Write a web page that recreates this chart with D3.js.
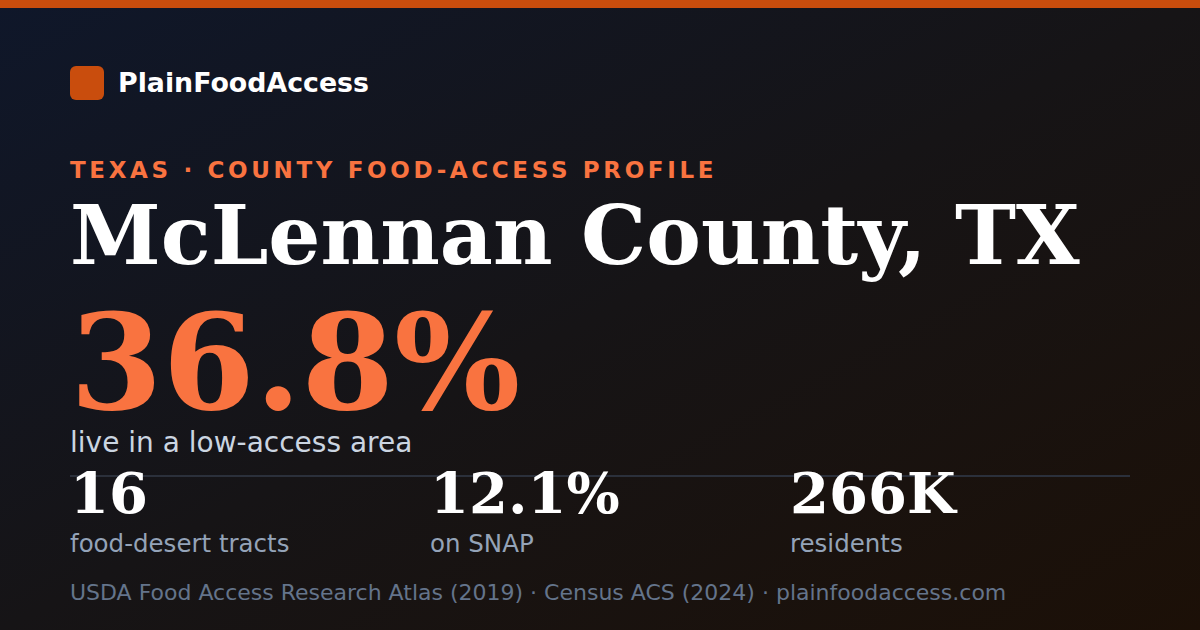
<!DOCTYPE html>
<html>
<head>
<meta charset="utf-8">
<script src="https://cdn.jsdelivr.net/npm/d3@7"></script>
<style>
  html, body { margin: 0; padding: 0; background: #111; }
  svg { display: block; }
</style>
</head>
<body>
<div class="card"></div>
<script>
// card content
const brand = "PlainFoodAccess";
const kicker = "TEXAS · COUNTY FOOD-ACCESS PROFILE";
const county = "McLennan County, TX";
const headline = "36.8%";
const headlineLabel = "live in a low-access area";
const statValues = ["16", "12.1%", "266K"];
const statLabels = ["food-desert tracts", "on SNAP", "residents"];
const sources = ["USDA Food Access Research Atlas (2019)", "Census ACS (2024)", "plainfoodaccess.com"];

const w = 1200, h = 630;
const left = 70;
const sans = "'DejaVu Sans', sans-serif";
const serif = "'DejaVu Serif', serif";

const svg = d3.select(".card")
  .append("svg")
  .attr("width", w)
  .attr("height", h);

// background gradient, navy top-left to dark brown bottom-right
const defs = svg.append("defs");
const grad = defs.append("linearGradient")
  .attr("id", "bg")
  .attr("x1", "0%").attr("y1", "0%")
  .attr("x2", "100%").attr("y2", "100%");
grad.append("stop").attr("offset", "0%").attr("stop-color", "#0f172a");
grad.append("stop").attr("offset", "50%").attr("stop-color", "#161416");
grad.append("stop").attr("offset", "100%").attr("stop-color", "#1c1007");

svg.append("rect")
  .attr("width", w)
  .attr("height", h)
  .attr("fill", "url(#bg)");

// top accent bar
svg.append("rect")
  .attr("width", w)
  .attr("height", 8)
  .attr("fill", "#c94d0d");

// logo + brand
svg.append("rect")
  .attr("x", left)
  .attr("y", 66)
  .attr("width", 34)
  .attr("height", 34)
  .attr("rx", 6)
  .attr("fill", "#c94d0d");

svg.append("text")
  .attr("x", 118)
  .attr("y", 92)
  .attr("font-family", sans)
  .attr("font-weight", "bold")
  .attr("font-size", 26.8)
  .attr("fill", "#ffffff")
  .text(brand);

// kicker
svg.append("text")
  .attr("x", left)
  .attr("y", 178)
  .attr("font-family", sans)
  .attr("font-weight", "bold")
  .attr("font-size", 23)
  .attr("letter-spacing", "3.65px")
  .attr("fill", "#f97340")
  .text(kicker);

// county title
svg.append("text")
  .attr("x", left)
  .attr("y", 264)
  .attr("font-family", serif)
  .attr("font-weight", "bold")
  .attr("font-size", 82)
  .attr("fill", "#ffffff")
  .text(county);

// headline number
svg.append("text")
  .attr("x", left)
  .attr("y", 409)
  .attr("font-family", serif)
  .attr("font-weight", "bold")
  .attr("font-size", 133)
  .attr("fill", "#f97340")
  .text(headline);

svg.append("text")
  .attr("x", left)
  .attr("y", 452)
  .attr("font-family", sans)
  .attr("font-size", 28)
  .attr("fill", "#cbd5e1")
  .text(headlineLabel);

// divider
svg.append("line")
  .attr("x1", left)
  .attr("x2", 1130)
  .attr("y1", 476)
  .attr("y2", 476)
  .attr("stroke", "#2b303b")
  .attr("stroke-width", 2);

// stats row
const xStat = d3.scalePoint()
  .domain(statLabels)
  .range([left, 790]);

const stats = svg.selectAll(".stat")
  .data(statLabels.map((d, i) => ({label: d, value: statValues[i]})))
  .enter()
  .append("g")
  .attr("class", "stat")
  .attr("transform", d => `translate(${xStat(d.label)},0)`);

stats.append("text")
  .attr("y", 513)
  .attr("font-family", serif)
  .attr("font-weight", "bold")
  .attr("font-size", 56)
  .attr("fill", "#ffffff")
  .text(d => d.value);

stats.append("text")
  .attr("y", 552)
  .attr("font-family", sans)
  .attr("font-size", 24.5)
  .attr("fill", "#94a3b8")
  .text(d => d.label);

// footer
svg.append("text")
  .attr("x", left)
  .attr("y", 600)
  .attr("font-family", sans)
  .attr("font-size", 22)
  .attr("fill", "#64748b")
  .text(sources.join(" · "));
</script>
</body>
</html>
